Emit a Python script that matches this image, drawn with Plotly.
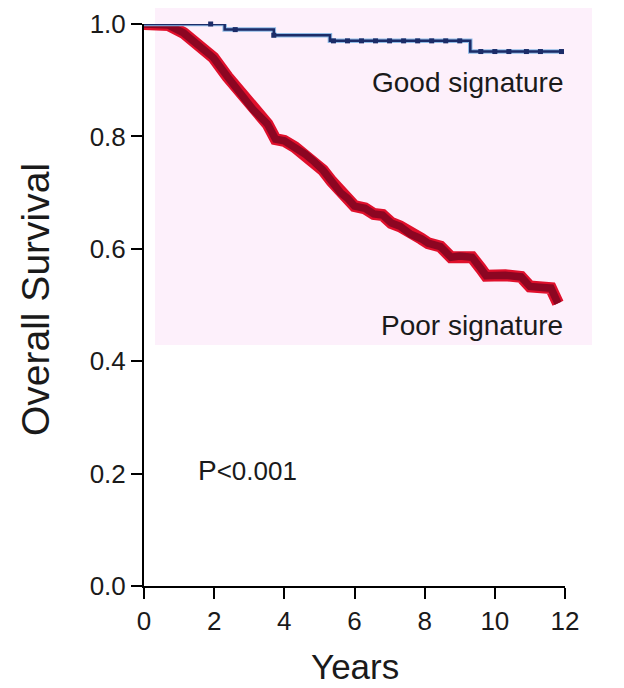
import plotly.graph_objects as go

# Good signature (blue) Kaplan-Meier steps
good_t = [0.0, 2.3, 3.7, 5.3, 9.3, 11.95]
good_s = [1.0, 0.99, 0.98, 0.97, 0.951, 0.951]
good_cens_t = [1.9, 2.6, 3.7, 5.4, 5.8, 6.2, 6.6, 7.0, 7.4, 7.8, 8.2, 8.6, 9.0, 9.6, 10.0, 10.4, 10.9, 11.3, 11.9]
good_cens_s = [1.0, 0.99, 0.98, 0.97, 0.97, 0.97, 0.97, 0.97, 0.97, 0.97, 0.97, 0.97, 0.97, 0.951, 0.951, 0.951, 0.951, 0.951, 0.951]

# Poor signature (red)
poor_t = [0.0, 0.5, 0.7, 1.13, 1.6, 1.98, 2.38, 2.75, 3.12, 3.52, 3.75, 4.0, 4.3, 4.6, 4.85,
          5.1, 5.35, 5.6, 5.8, 6.0, 6.3, 6.55, 6.8, 7.05, 7.3, 7.6, 7.9, 8.1, 8.45, 8.75,
          9.0, 9.35, 9.6, 9.75, 10.3, 10.75, 11.0, 11.6, 11.8]
poor_s = [1.0, 1.0, 0.998, 0.984, 0.959, 0.94, 0.906, 0.877, 0.847, 0.822, 0.795, 0.792, 0.781, 0.768, 0.755,
          0.74, 0.72, 0.70, 0.69, 0.676, 0.672, 0.662, 0.66, 0.646, 0.64, 0.626, 0.618, 0.61, 0.604, 0.585,
          0.587, 0.585, 0.565, 0.552, 0.553, 0.550, 0.533, 0.530, 0.503]

x_ticks = [0, 2, 4, 6, 8, 10, 12]
y_ticks = [0.0, 0.2, 0.4, 0.6, 0.8, 1.0]
y_tick_labels = ["0.0", "0.2", "0.4", "0.6", "0.8", "1.0"]

# page body has an 8px margin; figure is sized/placed to compensate
OFF = 8
W, H = 616, 680
PL, PR, PT, PB = 144, 565, 24, 586          # plot area in screen pixels
L, T = PL - OFF, PT - OFF
pw, ph = PR - PL, PB - PT
R = W - L - pw
B = H - T - ph

def px(xp):
    return (xp - PL) / pw

def py(yp):
    return (PB - yp) / ph

fig = go.Figure()

# red curve: halo + core
fig.add_trace(go.Scatter(x=poor_t, y=poor_s, mode="lines",
                         line=dict(color="#e0102c", width=12), cliponaxis=False, hoverinfo="skip"))
fig.add_trace(go.Scatter(x=poor_t, y=poor_s, mode="lines",
                         line=dict(color="#8c0622", width=7.5), cliponaxis=False, hoverinfo="skip"))

# blue curve: halo + core
fig.add_trace(go.Scatter(x=good_t, y=good_s, mode="lines", line_shape="hv",
                         line=dict(color="#8fbbe6", width=4.5), cliponaxis=False, hoverinfo="skip"))
fig.add_trace(go.Scatter(x=good_t, y=good_s, mode="lines", line_shape="hv",
                         line=dict(color="#1c2c68", width=2.5), cliponaxis=False, hoverinfo="skip"))
fig.add_trace(go.Scatter(x=good_cens_t, y=good_cens_s, mode="markers",
                         marker=dict(symbol="square", size=5, color="#1c2c68"),
                         cliponaxis=False, hoverinfo="skip"))

fig.add_shape(type="rect", xref="paper", yref="paper", layer="below",
              x0=px(155), x1=px(592), y0=py(345), y1=py(OFF),
              fillcolor="#fdf0fb", line=dict(width=0))

txt = dict(family="Liberation Sans, Arial, sans-serif", color="#1a1a1a")

fig.add_annotation(x=12, y=py(82), xref="x", yref="paper", text="Good signature", showarrow=False,
                   xanchor="right", yanchor="middle", font=dict(size=28, **txt))
fig.add_annotation(x=12, y=py(325), xref="x", yref="paper", text="Poor signature", showarrow=False,
                   xanchor="right", yanchor="middle", font=dict(size=28, **txt))
fig.add_annotation(x=px(196), y=py(470), xref="paper", yref="paper",
                   text="P<span style='font-size:26px'>&lt;0.001</span>", showarrow=False,
                   xanchor="left", yanchor="middle", font=dict(size=28, **txt))
fig.add_annotation(x=px(355), y=py(666), xref="paper", yref="paper", text="Years", showarrow=False,
                   xanchor="center", yanchor="middle", font=dict(size=35, **txt))
fig.add_annotation(x=px(35), y=py(300), xref="paper", yref="paper", text="Overall Survival", showarrow=False,
                   textangle=-90, xanchor="center", yanchor="middle", font=dict(size=39, **txt))

fig.update_layout(
    width=W, height=H,
    margin=dict(l=L, r=R, t=T, b=B, autoexpand=False),
    paper_bgcolor="white", plot_bgcolor="rgba(0,0,0,0)",
    showlegend=False,
    xaxis=dict(range=[0, 12], tickvals=x_ticks, ticks="outside", ticklen=11, tickwidth=2,
               tickcolor="black", showline=True, linecolor="black", linewidth=2, automargin=False,
               showgrid=False, zeroline=False, tickfont=dict(size=26, **txt)),
    yaxis=dict(range=[0, 1.0], tickvals=y_ticks, ticktext=y_tick_labels, ticks="outside",
               ticklen=11, tickwidth=2, tickcolor="black", showline=True, linecolor="black",
               linewidth=2, showgrid=False, zeroline=False, automargin=False,
               tickfont=dict(size=26, **txt)),
)

fig.write_html("out.html")
